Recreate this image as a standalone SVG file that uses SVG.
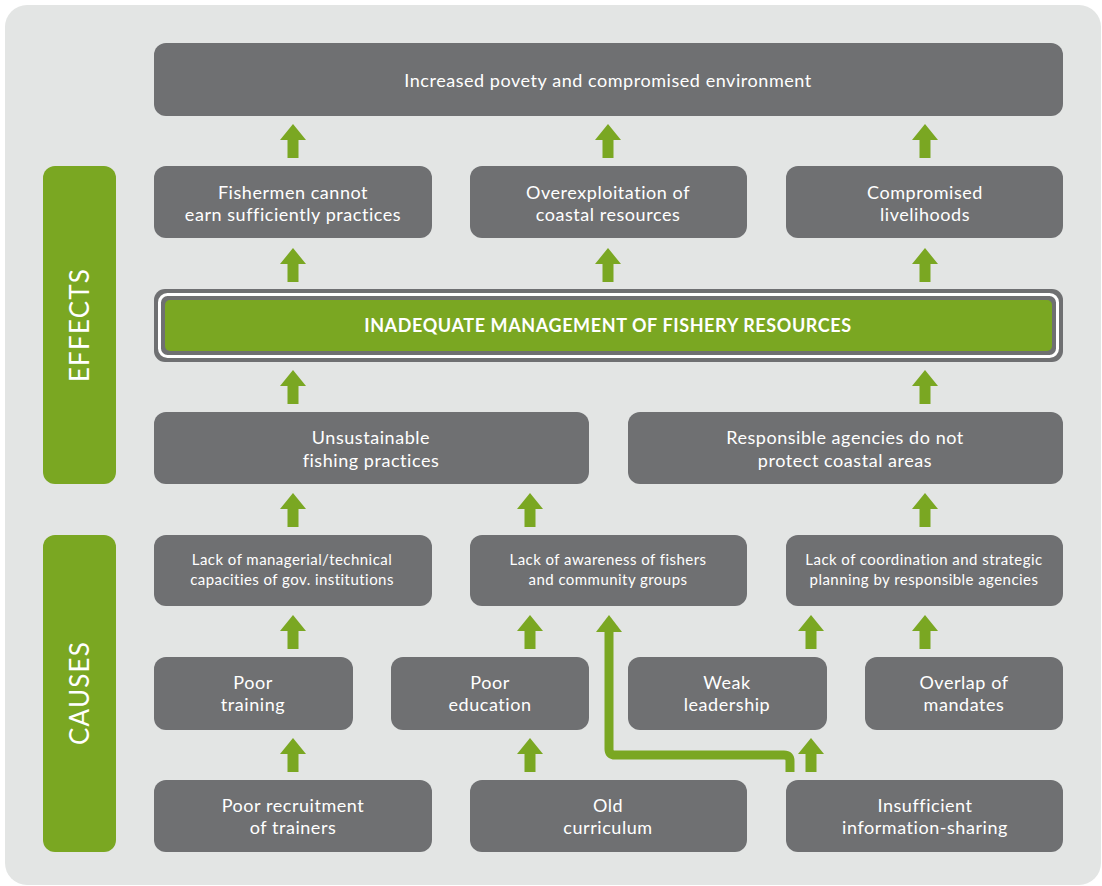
<svg xmlns="http://www.w3.org/2000/svg" xmlns:xlink="http://www.w3.org/1999/xlink" width="1102" height="886" viewBox="0 0 1102 886">
<style>
.box{fill:#6f7072}
.t{font-family:Lato,"Open Sans",sans-serif;fill:#ffffff;text-anchor:middle;font-size:18px;letter-spacing:0.55px}
.s{font-size:15px;letter-spacing:0.45px}
.side{fill:#7aa722}
.arr{fill:#7aa722}
</style>
<defs>
<path id="a" d="M0 0 L13 16 H5.5 V34 H-5.5 V16 H-13 Z"/>
</defs>
<rect x="5" y="5" width="1096" height="880" rx="22" fill="#e3e5e4"/>
<g id="effects"><rect class="side" x="43" y="166" width="73" height="318" rx="12"/><text class="t" style="font-size:26px;letter-spacing:1.2px" transform="translate(89 325) rotate(-90)">EFFECTS</text></g>
<g id="causes"><rect class="side" x="43" y="535" width="73" height="317" rx="12"/><text class="t" style="font-size:26px;letter-spacing:1.2px" transform="translate(89 693) rotate(-90)">CAUSES</text></g>
<g id="n1"><rect class="box" x="154" y="43" width="909" height="73" rx="12"/><text class="t" x="608" y="87">Increased povety and compromised environment</text></g>
<g id="n2"><rect class="box" x="154" y="166" width="278" height="72" rx="12"/><text class="t" x="293" y="199">Fishermen cannot</text><text class="t" x="293" y="221">earn sufficiently practices</text></g>
<g id="n3"><rect class="box" x="470" y="166" width="277" height="72" rx="12"/><text class="t" x="608" y="199">Overexploitation of</text><text class="t" x="608" y="221">coastal resources</text></g>
<g id="n4"><rect class="box" x="786" y="166" width="277" height="72" rx="12"/><text class="t" x="925" y="199">Compromised</text><text class="t" x="925" y="221">livelihoods</text></g>
<g id="core"><rect class="box" x="154" y="289" width="909" height="73" rx="11"/><rect x="159.5" y="294.5" width="898" height="62" rx="8" fill="none" stroke="#ffffff" stroke-width="3"/><rect x="165" y="300" width="887" height="51" rx="5" fill="#7aa722"/><text class="t" x="608" y="332" style="font-size:18px;font-weight:bold;letter-spacing:0.6px">INADEQUATE MANAGEMENT OF FISHERY RESOURCES</text></g>
<g id="n5"><rect class="box" x="154" y="412" width="435" height="72" rx="12"/><text class="t" x="371" y="444">Unsustainable</text><text class="t" x="371" y="467">fishing practices</text></g>
<g id="n6"><rect class="box" x="628" y="412" width="435" height="72" rx="12"/><text class="t" x="845" y="444">Responsible agencies do not</text><text class="t" x="845" y="467">protect coastal areas</text></g>
<g id="n7"><rect class="box" x="154" y="535" width="278" height="71" rx="12"/><text class="t s" x="292" y="565">Lack of managerial/technical</text><text class="t s" x="292" y="585">capacities of gov. institutions</text></g>
<g id="n8"><rect class="box" x="470" y="535" width="277" height="71" rx="12"/><text class="t s" x="608" y="565">Lack of awareness of fishers</text><text class="t s" x="608" y="585">and community groups</text></g>
<g id="n9"><rect class="box" x="786" y="535" width="277" height="71" rx="12"/><text class="t s" x="924" y="565">Lack of coordination and strategic</text><text class="t s" x="924" y="585">planning by responsible agencies</text></g>
<g id="n10"><rect class="box" x="154" y="657" width="199" height="73" rx="12"/><text class="t" x="253" y="689">Poor</text><text class="t" x="253" y="711">training</text></g>
<g id="n11"><rect class="box" x="391" y="657" width="198" height="73" rx="12"/><text class="t" x="490" y="689">Poor</text><text class="t" x="490" y="711">education</text></g>
<g id="n12"><rect class="box" x="628" y="657" width="199" height="73" rx="12"/><text class="t" x="727" y="689">Weak</text><text class="t" x="727" y="711">leadership</text></g>
<g id="n13"><rect class="box" x="865" y="657" width="198" height="73" rx="12"/><text class="t" x="964" y="689">Overlap of</text><text class="t" x="964" y="711">mandates</text></g>
<g id="n14"><rect class="box" x="154" y="780" width="278" height="72" rx="12"/><text class="t" x="293" y="812">Poor recruitment</text><text class="t" x="293" y="834">of trainers</text></g>
<g id="n15"><rect class="box" x="470" y="780" width="277" height="72" rx="12"/><text class="t" x="608" y="812">Old</text><text class="t" x="608" y="834">curriculum</text></g>
<g id="n16"><rect class="box" x="786" y="780" width="277" height="72" rx="12"/><text class="t" x="925" y="812">Insufficient</text><text class="t" x="925" y="834">information-sharing</text></g>
<g id="connectors" class="arr">
<use xlink:href="#a" x="293" y="124"/><use xlink:href="#a" x="608" y="124"/><use xlink:href="#a" x="925" y="124"/>
<use xlink:href="#a" x="293" y="248"/><use xlink:href="#a" x="608" y="248"/><use xlink:href="#a" x="925" y="248"/>
<use xlink:href="#a" x="293" y="370"/><use xlink:href="#a" x="925" y="370"/>
<use xlink:href="#a" x="293" y="493"/><use xlink:href="#a" x="530" y="493"/><use xlink:href="#a" x="925" y="493"/>
<use xlink:href="#a" x="293" y="615"/><use xlink:href="#a" x="530" y="615"/><use xlink:href="#a" x="811" y="615"/><use xlink:href="#a" x="925" y="615"/>
<use xlink:href="#a" x="293" y="738"/><use xlink:href="#a" x="530" y="738"/><use xlink:href="#a" x="811" y="738"/>
<path d="M790 772 V761 Q790 755 784 755 H615 Q609 755 609 749 V630" fill="none" stroke="#7aa722" stroke-width="9"/>
<path d="M609 615 L622 632 H596 Z"/>
</g>
</svg>
